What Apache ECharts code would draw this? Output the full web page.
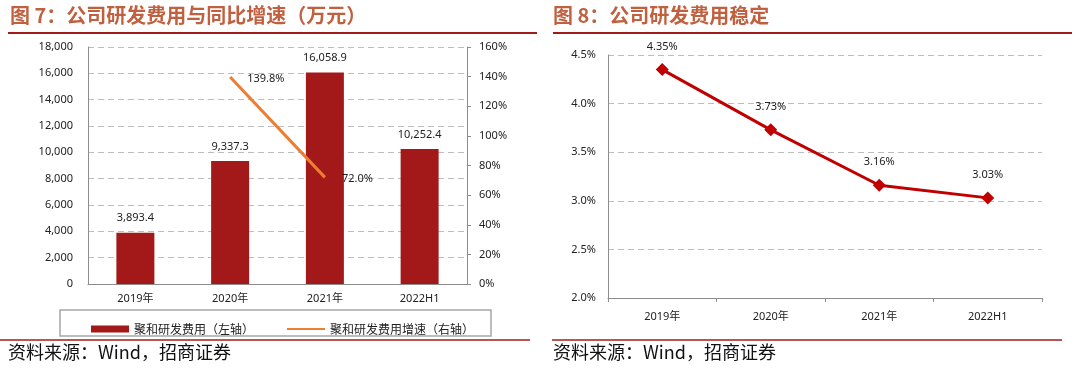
<!DOCTYPE html>
<html><head><meta charset="utf-8">
<script src="https://cdn.jsdelivr.net/npm/echarts@6/dist/echarts.min.js"></script>
<style>html,body{margin:0;padding:0;background:#fff}#c{width:1080px;height:369px}</style>
</head><body><div id="c"></div>
<script>
var categories = ['2019年', '2020年', '2021年', '2022H1'];
var rdExpense = [3893.4, 9337.3, 16058.9, 10252.4];
var rdGrowth = [null, 139.8, 72.0, null];
var rdRatio = [4.35, 3.73, 3.16, 3.03];
var leftTicks = [0, 2000, 4000, 6000, 8000, 10000, 12000, 14000, 16000, 18000];
var rightTicks = [0, 20, 40, 60, 80, 100, 120, 140, 160];
var ratioTicks = [2.0, 2.5, 3.0, 3.5, 4.0, 4.5];
var title7 = '图 7：公司研发费用与同比增速（万元）';
var title8 = '图 8：公司研发费用稳定';
var source = '资料来源：Wind，招商证券';
var legendNames = ['聚和研发费用（左轴）', '聚和研发费用增速（右轴）'];

var font = 'Noto Sans, Liberation Sans, sans-serif';
var cjk = 'Noto Sans CJK SC, sans-serif';
var axisLbl = {color: '#222', fontSize: 11, fontFamily: font};
var gridLine = {show: true, lineStyle: {color: '#bdbdbd', type: [6, 4], width: 1}};
function fmtThousands(v) { return Number(v).toLocaleString('en-US'); }

var chart = echarts.init(document.getElementById('c'), null, {renderer: 'canvas'});
chart.setOption({
  animation: false,
  backgroundColor: '#fff',
  textStyle: {fontFamily: font},
  grid: [
    {left: 88, top: 47, width: 379, height: 237},
    {left: 608, top: 55, width: 434, height: 243}
  ],
  legend: {
    left: 86, top: 318, itemGap: 32, itemWidth: 38, itemHeight: 7,
    textStyle: {fontFamily: cjk, fontSize: 12, color: '#222'},
    data: [{name: legendNames[0], icon: 'rect'}, {name: legendNames[1], itemStyle: {opacity: 0}}]
  },
  xAxis: [
    {type: 'category', gridIndex: 0, data: categories,
     axisLine: {lineStyle: {color: '#8c8c8c'}}, axisTick: {show: false},
     axisLabel: Object.assign({margin: 9}, axisLbl, {fontFamily: 'Noto Sans, Noto Sans CJK SC'})},
    {type: 'category', gridIndex: 1, data: categories,
     axisLine: {lineStyle: {color: '#8c8c8c'}}, axisTick: {show: true, length: 4, lineStyle: {color: '#8c8c8c'}},
     axisLabel: Object.assign({margin: 13}, axisLbl, {fontFamily: 'Noto Sans, Noto Sans CJK SC'})}
  ],
  yAxis: [
    {type: 'value', gridIndex: 0, min: leftTicks[0], max: leftTicks[leftTicks.length - 1], interval: 2000,
     axisLine: {show: true, lineStyle: {color: '#8c8c8c'}}, axisTick: {show: false},
     axisLabel: Object.assign({formatter: fmtThousands, margin: 15}, axisLbl),
     splitLine: gridLine},
    {type: 'value', gridIndex: 0, position: 'right', min: rightTicks[0], max: rightTicks[rightTicks.length - 1], interval: 20,
     axisLine: {show: true, lineStyle: {color: '#8c8c8c'}}, axisTick: {show: true, length: 4, lineStyle: {color: '#8c8c8c'}},
     axisLabel: Object.assign({formatter: '{value}%', margin: 12}, axisLbl),
     splitLine: {show: false}},
    {type: 'value', gridIndex: 1, min: ratioTicks[0], max: ratioTicks[ratioTicks.length - 1], interval: 0.5,
     axisLine: {show: true, lineStyle: {color: '#8c8c8c'}}, axisTick: {show: false},
     axisLabel: Object.assign({formatter: function (v) { return v.toFixed(1) + '%'; }, margin: 12}, axisLbl),
     splitLine: gridLine}
  ],
  series: [
    {name: legendNames[0], type: 'bar', xAxisIndex: 0, yAxisIndex: 0, data: rdExpense,
     barWidth: 38, itemStyle: {color: '#A31818'},
     label: {show: true, position: 'top', distance: 9, color: '#222', fontSize: 11, fontFamily: font,
       formatter: function (p) { return p.value.toLocaleString('en-US', {minimumFractionDigits: 1, maximumFractionDigits: 1}); }}},
    {name: legendNames[1], type: 'line', xAxisIndex: 0, yAxisIndex: 1, data: rdGrowth,
     symbol: 'circle', symbolSize: 0.1, showSymbol: true,
     lineStyle: {color: '#ED7D31', width: 3}, itemStyle: {color: '#ED7D31'},
     label: {show: true, position: 'right', distance: 17, offset: [0, 2], color: '#222', fontSize: 11, fontFamily: font,
       formatter: function (p) { return p.value == null ? '' : p.value.toFixed(1) + '%'; }}},
    {name: 'ratio', type: 'line', xAxisIndex: 1, yAxisIndex: 2, data: rdRatio,
     symbol: 'diamond', symbolSize: 13, lineStyle: {color: '#C00000', width: 3}, itemStyle: {color: '#C00000'},
     label: {show: true, position: 'top', distance: 11, color: '#222', fontSize: 11, fontFamily: font,
       formatter: function (p) { return p.value.toFixed(2) + '%'; }}}
  ],
  graphic: [
    {type: 'text', left: 10, top: 5, style: {text: title7, fill: '#C0603F', font: 'bold 20px Noto Sans CJK SC'}},
    {type: 'text', left: 553, top: 5, style: {text: title8, fill: '#C0603F', font: 'bold 20px Noto Sans CJK SC'}},
    {type: 'line', shape: {x1: 8, y1: 33, x2: 537, y2: 33}, style: {stroke: '#A01C1C', lineWidth: 2}},
    {type: 'line', shape: {x1: 553, y1: 33, x2: 1072, y2: 33}, style: {stroke: '#A01C1C', lineWidth: 2}},
    {type: 'rect', shape: {x: 60, y: 310, width: 431, height: 26}, style: {fill: 'none', stroke: '#a6a6a6', lineWidth: 1.5}},
    {type: 'line', shape: {x1: 0, y1: 340, x2: 530, y2: 340}, style: {stroke: '#A01C1C', lineWidth: 1.5}},
    {type: 'line', shape: {x1: 552, y1: 340, x2: 1062, y2: 340}, style: {stroke: '#A01C1C', lineWidth: 1.5}},
    {type: 'text', left: 8, top: 343, style: {text: source, fill: '#111', font: '18px Noto Sans CJK SC'}},
    {type: 'text', left: 553, top: 343, style: {text: source, fill: '#111', font: '18px Noto Sans CJK SC'}}
  ]
});
</script></body></html>
